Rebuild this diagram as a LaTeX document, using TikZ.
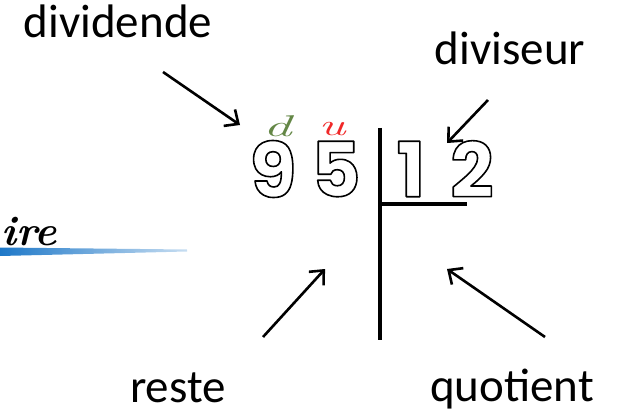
\documentclass[tikz,border=0pt]{standalone}
\usepackage{fontspec}
\setmainfont{Carlito}
\newfontfamily\digitfont{Poppins}
\newfontfamily\lmfont{Latin Modern Roman}
\usepackage{xcolor}
\usetikzlibrary{arrows.meta}

\definecolor{dizgreen}{RGB}{100,135,70}
\definecolor{unitred}{RGB}{240,40,40}
\definecolor{titleblue}{RGB}{30,120,200}
\newcommand{\hollow}[1]{\special{pdf:literal direct 1 Tr 1 j 1.6 w}#1\special{pdf:literal direct 0 Tr}}

\begin{document}
\begin{tikzpicture}[x=1pt,y=-1pt,font=\fontsize{47}{52}\selectfont]
  \tikzset{
    word/.style={anchor=base,inner sep=0pt},
    digit/.style={inner sep=0pt,font=\digitfont\bfseries\fontsize{76}{76}\selectfont},
    placemark/.style={inner sep=0pt,font=\lmfont\itshape\fontsize{30}{30}\selectfont},
    pointer/.style={-{Straight Barb[length=11pt,width=20pt]},line width=2.6pt},
    rule/.style={line width=3.2pt}}
  \useasboundingbox (0,0) rectangle (617,414);
  % labels
  \node[word] (dividende) at (118,38) {dividende};
  \node[word] (diviseur) at (510,65) {diviseur};
  \node[word] (reste) at (178,402) {reste};
  \node[word] (quotient) at (512,401) {quotient};
  % the numbers
  \foreach \name/\xx/\v in {nine/273/9,five/336/5,one/411/1,two/472/2}{
    \node[digit] (\name) at (\xx,169) {\hollow{\v}};}
  \node[placemark,text=dizgreen] (diz) at (277,126) {\scalebox{1.9}[1]{d}};
  \node[placemark,text=unitred] (unit) at (332,129) {\scalebox{1.7}[1]{u}};
  % division sign
  \draw[rule] (380,128) -- (380,340);
  \draw[rule] (380,204) -- (467,204);
  % arrows
  \coordinate (dvdfrom) at (163,72);  \coordinate (dvdto) at (240,125);
  \coordinate (dvsfrom) at (488,100); \coordinate (dvsto) at (447,143);
  \coordinate (rstfrom) at (263,337); \coordinate (rstto) at (325,269);
  \coordinate (quofrom) at (545,337); \coordinate (quoto) at (447,269);
  \foreach \a/\b in {dvdfrom/dvdto,dvsfrom/dvsto,rstfrom/rstto,quofrom/quoto}{
    \draw[pointer] (\a) -- (\b);}
  % left title, cut off
  \node[anchor=base west,inner sep=0pt,font=\lmfont\bfseries\itshape\fontsize{42}{42}\selectfont] (title) at (1,245) {ire};
  \shade[left color=titleblue,right color=titleblue!25] (0,247.5) -- (187,249.5) -- (187,251.5) -- (0,256) -- cycle;
\end{tikzpicture}
\end{document}
